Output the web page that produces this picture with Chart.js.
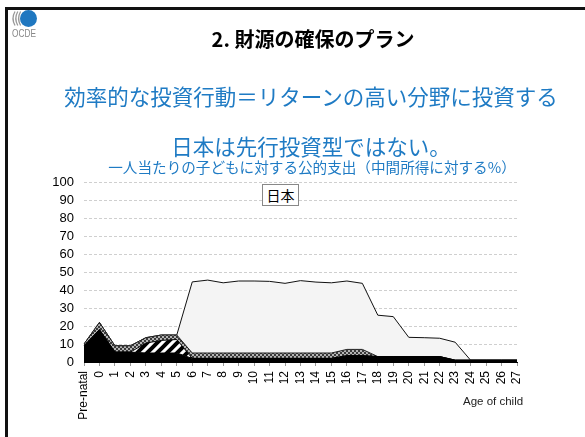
<!DOCTYPE html>
<html>
<head>
<meta charset="utf-8">
<script src="https://cdn.jsdelivr.net/npm/chart.js@4"></script>
<style>
  html, body { margin: 0; padding: 0; background: #fff; }
  #slide { position: relative; width: 585px; height: 437px; overflow: hidden; background: #fff; }
  #frame { position: absolute; left: 5px; top: 7px; right: -10px; bottom: -10px; border-top: 3px solid #111; border-left: 3px solid #111; }
  #chart { position: absolute; left: 0; top: 0; }
  .txt { position: absolute; white-space: nowrap; font-family: "Noto Sans CJK JP", sans-serif; transform: translateX(-50%); }
  #title { left: 313px; top: 24px; font-size: 20px; font-weight: bold; color: #000; }
  #lead { left: 311px; top: 80px; font-size: 21.5px; color: #1f7bc4; }
  #sub1 { left: 311px; top: 130px; font-size: 21.5px; color: #1f7bc4; }
  #sub2 { left: 312px; top: 156px; font-size: 14.6px; color: #1f7bc4; }
  #country { position: absolute; left: 262px; top: 184px; width: 35px; height: 20px; border: 1px solid #888; background: #fff;
             font-family: "Noto Sans CJK JP", sans-serif; font-size: 14px; line-height: 20px; text-align: center; color: #000; }
  #axisTitle { position: absolute; left: 463px; top: 395px; font-family: "Liberation Sans", Arial, sans-serif; font-size: 11.5px; color: #222; }
  #logo { position: absolute; left: 10px; top: 8px; }
</style>
</head>
<body>
<div id="slide">
  <div id="frame"></div>
  <canvas id="chart" width="585" height="437"></canvas>
  <svg id="logo" width="30" height="32" viewBox="0 0 30 32">
    <path d="M5 3.5 Q1 10.5 5 17.5" fill="none" stroke="#999" stroke-width="1.3"/>
    <path d="M7.8 3.5 Q3.8 10.5 7.8 17.5" fill="none" stroke="#999" stroke-width="1.3"/>
    <path d="M10.6 3.5 Q6.6 10.5 10.6 17.5" fill="none" stroke="#999" stroke-width="1.3"/>
    <circle cx="18.5" cy="10.5" r="8.5" fill="#1f77c0"/>
    <text x="2" y="29" font-family="Liberation Sans, Arial, sans-serif" font-size="11.5" fill="#888" textLength="24" lengthAdjust="spacingAndGlyphs">OCDE</text>
  </svg>
  <div class="txt" id="title">2. 財源の確保のプラン</div>
  <div class="txt" id="lead">効率的な投資行動＝リターンの高い分野に投資する</div>
  <div class="txt" id="sub1">日本は先行投資型ではない。</div>
  <div class="txt" id="sub2">一人当たりの子どもに対する公的支出（中間所得に対する%）</div>
  <div id="country">日本</div>
  <div id="axisTitle">Age of child</div>
</div>
<script>
// public spending per child by age, % of median income (stacked)
const ages = ['Pre-natal', '0', '1', '2', '3', '4', '5', '6', '7', '8', '9', '10', '11', '12', '13',
              '14', '15', '16', '17', '18', '19', '20', '21', '22', '23', '24', '25', '26', '27'];
const cashBenefits = [9, 18, 5.5, 5.5, 5, 5, 5, 2, 2, 2, 2, 2, 2, 2, 2,
                      2, 2, 3.5, 3.5, 3, 3, 3, 3, 3, 1, 1, 1, 1, 1];
const childcare = [0, 0, 0, 0, 5.5, 7, 7.5, 0, 0, 0, 0, 0, 0, 0, 0,
                   0, 0, 0, 0, 0, 0, 0, 0, 0, 0, 0, 0, 0, 0];
const otherServices = [1, 4, 3.5, 3.5, 3, 3, 2.5, 3, 3, 3, 3, 3, 3, 3, 3,
                       3, 3, 3.5, 3.5, 0, 0, 0, 0, 0, 0, 0, 0, 0, 0];
const education = [0, 0, 0, 0, 0, 0, 0, 39.5, 40.5, 39, 40, 40, 39.8, 38.7, 40.2,
                   39.4, 39, 38, 36.7, 23, 22.2, 10.7, 10.5, 10.2, 10, 0, 0, 0, 0];
const yTicks = [0, 10, 20, 30, 40, 50, 60, 70, 80, 90, 100];

function makePattern(size, draw) {
    const c = document.createElement('canvas');
    c.width = size;
    c.height = size;
    draw(c.getContext('2d'), size);
    return c.getContext('2d').createPattern(c, 'repeat');
}

// white with thick diagonal stripes
const hatch = makePattern(10, (p, s) => {
    p.fillStyle = '#fff';
    p.fillRect(0, 0, s, s);
    p.strokeStyle = '#000';
    p.lineWidth = 4;
    p.beginPath();
    p.moveTo(0, s); p.lineTo(s, 0);
    p.moveTo(-s / 2, s / 2); p.lineTo(s / 2, -s / 2);
    p.moveTo(s / 2, s * 1.5); p.lineTo(s * 1.5, s / 2);
    p.stroke();
});

// fine grey checkerboard
const checker = makePattern(4, (p, s) => {
    p.fillStyle = '#b4b4b4';
    p.fillRect(0, 0, s, s);
    p.fillStyle = '#3a3a3a';
    p.fillRect(0, 0, 2, 2);
    p.fillRect(2, 2, 2, 2);
});

const ctx = document.getElementById('chart').getContext('2d');
const chart = new Chart(ctx, {
    type: 'line',
    data: {
        labels: ages,
        datasets: [
            { label: 'Cash', data: cashBenefits, fill: 'origin', backgroundColor: '#000', borderColor: '#000', borderWidth: 1 },
            { label: 'Childcare', data: childcare, fill: '-1', backgroundColor: hatch, borderColor: '#000', borderWidth: 1 },
            { label: 'Other', data: otherServices, fill: '-1', backgroundColor: checker, borderColor: '#222', borderWidth: 1 },
            { label: 'Education', data: education, fill: '-1', backgroundColor: '#f4f4f4', borderColor: '#111', borderWidth: 1 }
        ]
    },
    options: {
        responsive: false,
        animation: false,
        devicePixelRatio: 1,
        layout: { padding: { left: 30, top: 182, right: 68, bottom: 0 } },
        elements: { point: { radius: 0 }, line: { tension: 0 } },
        plugins: { legend: { display: false }, tooltip: { enabled: false } },
        scales: {
            x: {
                offset: false,
                grid: { drawOnChartArea: false, drawTicks: true, tickLength: 4, color: '#999' },
                border: { display: true, color: '#000', width: 1 },
                ticks: {
                    autoSkip: false, minRotation: 90, maxRotation: 90, padding: 5,
                    color: '#000', font: { family: 'Liberation Sans', size: 12 }
                },
                afterFit: (scale) => { scale.height = 75; }
            },
            y: {
                stacked: true,
                min: 0,
                max: 100,
                grid: { drawTicks: false, color: '#cfcfcf', lineWidth: 1 },
                border: { display: false, dash: [3, 2] },
                afterBuildTicks: (scale) => { scale.ticks = yTicks.map(v => ({ value: v })); },
                ticks: { autoSkip: false, padding: 10, color: '#000', font: { family: 'Liberation Sans', size: 13 } },
                afterFit: (scale) => { scale.width = 54; }
            }
        }
    }
});
</script>
</body>
</html>
